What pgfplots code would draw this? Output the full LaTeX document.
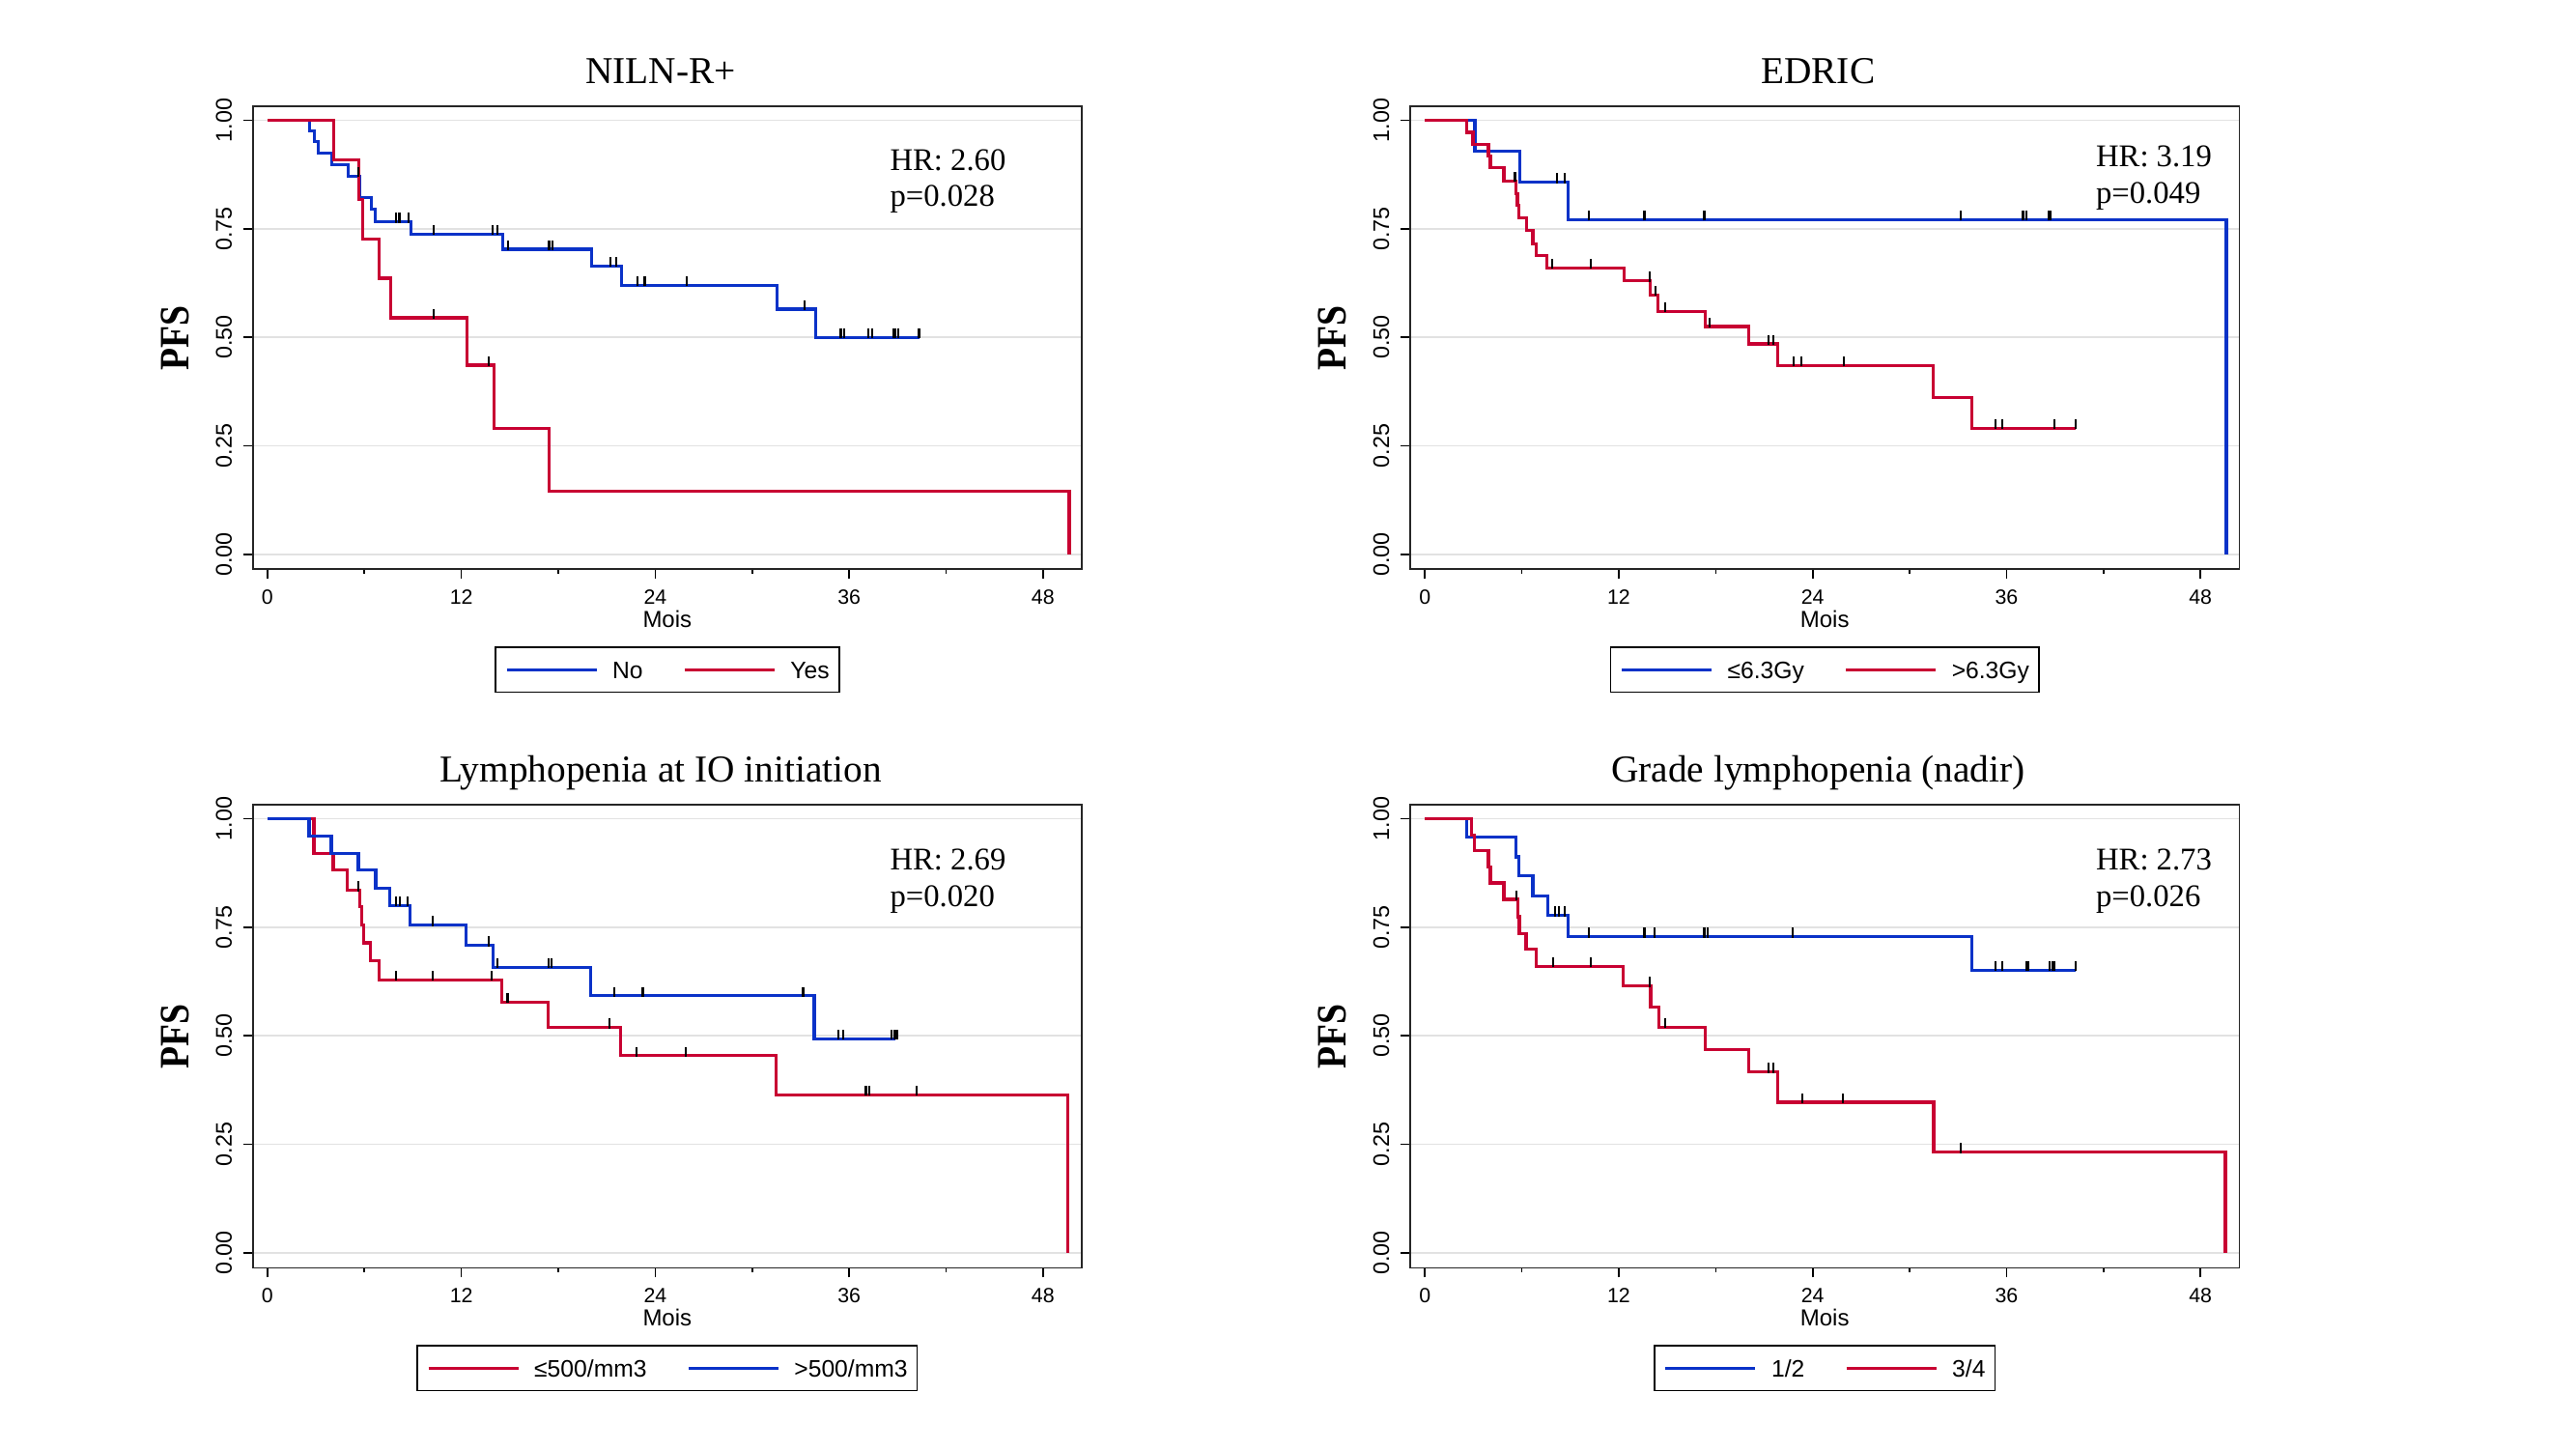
\documentclass[border=0pt]{standalone}
\usepackage{fontspec}
\setmainfont{Liberation Serif}
\setsansfont{Liberation Sans}
\usepackage{pgfplots}
\pgfplotsset{compat=1.18}
\definecolor{kmblue}{RGB}{10,50,200}
\definecolor{kmred}{RGB}{200,0,50}
\definecolor{gridgray}{RGB}{226,226,226}
\pgfdeclareplotmark{censmark}{\pgfpathmoveto{\pgfqpoint{0pt}{-0.3pt}}\pgfpathlineto{\pgfqpoint{0pt}{2.8pt}}\pgfusepathqstroke}
\tikzset{hr/.style={anchor=base west, inner sep=0pt, font=\fontsize{9.8}{11}\selectfont}}
\pgfplotsset{
  km/.style={
    scale only axis, width=257.5pt, height=143.8pt,
    xmin=-0.91, xmax=50.4, ymin=-0.034, ymax=1.032,
    axis line style={line width=0.5pt, black!85},
    xtick={0,12,24,36,48}, xticklabels={0,12,24,36,48},
    minor xtick={6,18,30,42},
    ytick={0,0.25,0.5,0.75,1}, yticklabels={0.00,0.25,0.50,0.75,1.00},
    tick pos=left, tick align=outside,
    major tick length=3pt, minor tick length=1.4pt,
    every tick/.style={black, line width=0.5pt},
    ymajorgrids, grid style={line width=0.45pt, gridgray},
    xticklabel style={font=\sffamily\fontsize{6.4}{7}\selectfont, inner sep=0pt, anchor=north, yshift=-3.2pt},
    yticklabel style={font=\sffamily\fontsize{7}{8}\selectfont, rotate=90, anchor=south, inner sep=0pt, yshift=3.3pt},
    title style={font=\fontsize{11.8}{13}\selectfont, at={(0.492,1)}, anchor=base, yshift=1pt, inner sep=0pt},
    xlabel={Mois},
    xlabel style={font=\sffamily\fontsize{7.2}{8}\selectfont, at={(axis description cs:0.5,-0.108)}, anchor=center, inner sep=0pt},
    ylabel={PFS},
    ylabel style={font=\bfseries\fontsize{13}{14}\selectfont, at={(axis description cs:-0.094,0.5)}, anchor=center, inner sep=0pt, xscale=0.87},
    legend columns=2,
    legend image code/.code={\draw[#1, line width=0.95pt] (0pt,0pt) -- (27.9pt,0pt);},
    legend style={at={(0.5,-0.167)}, anchor=north, draw=black, line width=0.5pt,
      inner xsep=3pt, inner ysep=4.3pt,
      font=\sffamily\fontsize{7.4}{8}\selectfont,
      nodes={inner sep=0pt, text height=5.3pt, text depth=0pt},
      column sep=0pt,
      /tikz/every odd column/.append style={column sep=4.5pt},
      /tikz/every even column/.append style={column sep=12.5pt}},
    legend cell align=left,
  },
  bluekm/.style={kmblue, const plot, line width=0.95pt, no marks},
  redkm/.style={kmred, const plot, line width=0.95pt, no marks},
  censored/.style={only marks, mark=censmark, mark options={black, line width=0.65pt}, forget plot},
}
\begin{document}
\begin{tikzpicture}
\useasboundingbox (0,0) rectangle (800.1pt,450pt);
% ---------------- Panel 1: NILN-R+
\begin{axis}[km, at={(78.5pt,273.2pt)}, anchor=south west, title={NILN-R+}]
\addplot[bluekm] coordinates {(0,1) (2.59,0.975) (2.93,0.95) (3.12,0.925) (3.97,0.897) (4.99,0.871) (5.72,0.821) (6.45,0.795) (6.68,0.766) (8.86,0.738) (14.56,0.703) (20.06,0.664) (21.9,0.62) (31.54,0.565) (33.91,0.50) (40.33,0.50)};
\addlegendentry{No}
\addplot[redkm] coordinates {(0,1) (4.08,0.909) (5.65,0.818) (5.88,0.727) (6.91,0.636) (7.64,0.545) (12.34,0.436) (14.02,0.291) (17.43,0.145) (49.62,0)};
\addlegendentry{Yes}
\addplot[censored] coordinates {(5.61,0.871) (7.98,0.766) (8.17,0.766) (8.71,0.766) (10.28,0.738) (13.91,0.738) (14.21,0.738) (14.9,0.703) (17.43,0.703) (17.62,0.703) (21.21,0.664) (21.6,0.664) (22.9,0.62) (23.35,0.62) (25.95,0.62) (33.22,0.565) (35.48,0.5) (35.71,0.5) (37.2,0.5) (37.43,0.5) (38.73,0.5) (38.88,0.5) (39.03,0.5) (40.33,0.5)};
\addplot[censored] coordinates {(10.28,0.545) (13.72,0.436)};
\node[hr] at (axis cs:38.5,0.883) {HR: 2.60};
\node[hr] at (axis cs:38.5,0.802) {p=0.028};
\end{axis}
% ---------------- Panel 2: EDRIC
\begin{axis}[km, at={(438pt,273.2pt)}, anchor=south west, title={EDRIC}]
\addplot[bluekm] coordinates {(0,1) (3.09,0.929) (5.88,0.857) (8.85,0.771) (49.6,0)};
\addlegendentry{≤6.3Gy}
\addplot[redkm] coordinates {(0,1) (2.59,0.972) (2.97,0.945) (3.93,0.917) (4.05,0.890) (4.89,0.860) (5.65,0.831) (5.72,0.804) (5.8,0.776) (6.3,0.747) (6.68,0.716) (6.87,0.688) (7.56,0.660) (12.33,0.630) (13.93,0.598) (14.43,0.560) (17.37,0.525) (20.04,0.485) (21.83,0.435) (31.45,0.362) (33.85,0.291) (40.27,0.291)};
\addlegendentry{>6.3Gy}
\addplot[censored] coordinates {(8.17,0.857) (8.66,0.857) (10.15,0.771) (13.59,0.771) (17.29,0.771) (33.17,0.771) (37.02,0.771) (37.25,0.771) (38.59,0.771) (38.74,0.771)};
\addplot[censored] coordinates {(5.57,0.86) (7.9,0.66) (10.26,0.66) (13.89,0.63) (14.27,0.598) (14.88,0.56) (17.63,0.525) (21.26,0.485) (21.57,0.485) (22.82,0.435) (23.32,0.435) (25.91,0.435) (35.3,0.291) (35.72,0.291) (38.97,0.291) (40.27,0.291)};
\node[hr] at (axis cs:41.5,0.893) {HR: 3.19};
\node[hr] at (axis cs:41.5,0.808) {p=0.049};
\end{axis}
% ---------------- Panel 3: Lymphopenia at IO initiation
\begin{axis}[km, at={(78.5pt,56.3pt)}, anchor=south west, title={Lymphopenia at IO initiation}]
\addplot[redkm] coordinates {(0,1) (2.88,0.92) (4.07,0.881) (4.94,0.835) (5.71,0.797) (5.82,0.755) (5.93,0.714) (6.35,0.672) (6.89,0.629) (14.48,0.578) (17.35,0.519) (21.85,0.454) (31.47,0.364) (49.52,0)};
\addlegendentry{≤500/mm3}
\addplot[bluekm] coordinates {(0,1) (2.58,0.96) (3.95,0.92) (5.63,0.881) (6.7,0.84) (7.58,0.80) (8.82,0.755) (12.29,0.708) (13.98,0.658) (20.02,0.592) (33.84,0.493) (38.87,0.493)};
\addlegendentry{>500/mm3}
\addplot[censored] coordinates {(7.96,0.80) (8.19,0.80) (8.68,0.80) (10.25,0.755) (13.68,0.708) (14.25,0.658) (17.38,0.658) (17.58,0.658) (21.47,0.592) (23.23,0.592) (33.15,0.592) (35.33,0.493) (35.63,0.493) (38.64,0.493) (38.8,0.493) (38.95,0.493)};
\addplot[censored] coordinates {(5.63,0.835) (7.96,0.629) (10.25,0.629) (13.87,0.629) (14.86,0.578) (21.16,0.519) (22.84,0.454) (25.89,0.454) (37.04,0.364) (37.27,0.364) (40.17,0.364)};
\node[hr] at (axis cs:38.5,0.881) {HR: 2.69};
\node[hr] at (axis cs:38.5,0.798) {p=0.020};
\end{axis}
% ---------------- Panel 4: Grade lymphopenia (nadir)
\begin{axis}[km, at={(438pt,56.3pt)}, anchor=south west, title={Grade lymphopenia (nadir)}]
\addplot[bluekm] coordinates {(0,1) (2.6,0.957) (5.65,0.912) (5.8,0.868) (6.68,0.822) (7.6,0.777) (8.85,0.728) (33.85,0.651) (40.27,0.651)};
\addlegendentry{1/2}
\addplot[redkm] coordinates {(0,1) (2.9,0.962) (3.05,0.926) (3.93,0.888) (4.05,0.852) (4.89,0.814) (5.73,0.774) (5.84,0.736) (6.26,0.699) (6.87,0.66) (12.29,0.615) (13.97,0.567) (14.47,0.52) (17.37,0.469) (20.04,0.417) (21.83,0.347) (31.49,0.232) (49.54,0)};
\addlegendentry{3/4}
\addplot[censored] coordinates {(8.05,0.777) (8.28,0.777) (8.66,0.777) (10.15,0.728) (13.59,0.728) (14.2,0.728) (17.29,0.728) (17.52,0.728) (22.75,0.728) (35.3,0.651) (35.73,0.651) (37.21,0.651) (37.37,0.651) (38.66,0.651) (38.82,0.651) (38.97,0.651) (40.27,0.651)};
\addplot[censored] coordinates {(5.65,0.814) (7.94,0.66) (10.27,0.66) (13.89,0.615) (14.89,0.52) (21.26,0.417) (21.56,0.417) (23.36,0.347) (25.88,0.347) (33.17,0.232)};
\node[hr] at (axis cs:41.5,0.882) {HR: 2.73};
\node[hr] at (axis cs:41.5,0.798) {p=0.026};
\end{axis}
\end{tikzpicture}
\end{document}
